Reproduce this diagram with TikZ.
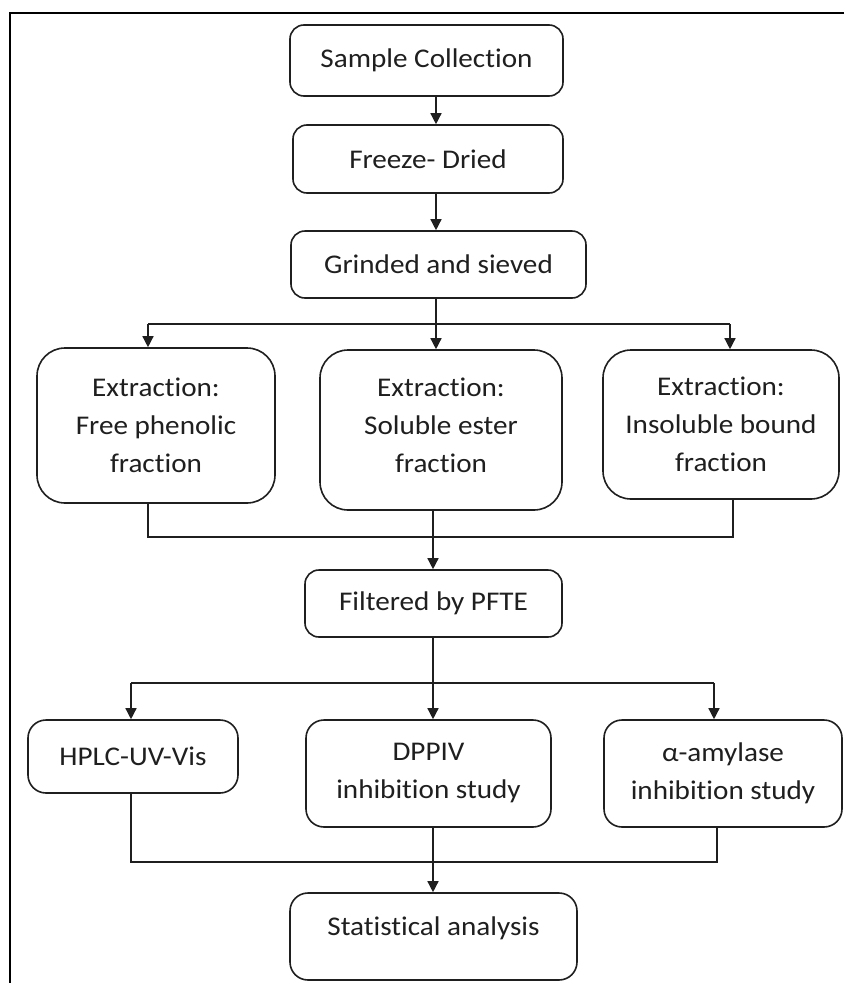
\documentclass[tikz,border=0pt]{standalone}
\usepackage{fontspec}
\setmainfont{Carlito}[FakeStretch=1.08, RawFeature=-liga]
\usetikzlibrary{arrows.meta}
\definecolor{ink}{rgb}{0.12,0.12,0.12}
\tikzset{
  box/.style={draw=ink, text=ink, line width=1.6pt, rounded corners=14pt, inner sep=0pt,
    align=center, font=\fontsize{27}{38}\selectfont},
  bigbox/.style={box, rounded corners=28pt},
  midbox/.style={box, rounded corners=18pt},
  link/.style={draw=ink, line width=1.4pt},
  arr/.style={link, -{Triangle[length=11pt,width=11pt]}}
}
\begin{document}
\begin{tikzpicture}[x=1pt,y=-1pt]
\useasboundingbox (0,0) rectangle (844,983);
\fill[white] (0,0) rectangle (844,983);
\draw[line width=2pt] (844,13) -- (10,13) -- (10,983);

\node[box, minimum width=273pt, minimum height=71pt] (sc) at (426.5,60.5) {Sample Collection};
\node[box, minimum width=270pt, minimum height=68pt] (fd) at (428,159) {Freeze- Dried};
\node[box, minimum width=295pt, minimum height=67pt] (gs) at (438.5,264.5) {Grinded and sieved};

\node[bigbox, minimum width=238pt, minimum height=155pt] (e1) at (156,425.5) {Extraction:\\Free phenolic\\fraction};
\node[bigbox, minimum width=242pt, minimum height=160pt, text depth=10pt] (e2) at (441,430) {Extraction:\\Soluble ester\\fraction};
\node[bigbox, minimum width=236pt, minimum height=149pt] (e3) at (721,424.5) {Extraction:\\Insoluble bound\\fraction};

\node[box, minimum width=257pt, minimum height=67pt] (pf) at (433.5,603.5) {Filtered by PFTE};

\node[midbox, minimum width=210pt, minimum height=73pt] (h1) at (133,756.5) {HPLC-UV-Vis};
\node[midbox, minimum width=245pt, minimum height=107pt] (h2) at (428.5,773.5) {DPPIV\\inhibition study};
\node[midbox, minimum width=238pt, minimum height=107pt] (h3) at (723,773.5) {α-amylase\\inhibition study};

\node[midbox, minimum width=287pt, minimum height=87pt, text height=19pt, text depth=22pt] (st) at (433.5,936.5) {Statistical analysis};

% spine
\coordinate (a1) at (436,0);
\draw[arr] (sc.south -| a1) -- (fd.north -| a1);
\draw[arr] (fd.south -| a1) -- (gs.north -| a1);

% first branch
\coordinate (b1) at (436,324);
\coordinate (bl) at (148,324);
\coordinate (br) at (730,324);
\draw[link] (gs.south -| b1) -- (b1);
\draw[link] (bl) -- (br);
\draw[arr] (bl) -- (e1.north -| bl);
\draw[arr] (b1) -- (e2.north -| b1);
\draw[arr] (br) -- (e3.north -| br);

% first merge
\coordinate (ml) at (148,537);
\coordinate (mr) at (733,537);
\coordinate (mc) at (433,537);
\draw[link] (e1.south -| ml) -- (ml) -- (mr) -- (e3.south -| mr);
\draw[arr] (e2.south -| mc) -- (pf.north -| mc);

% second branch
\coordinate (s2) at (433,683);
\coordinate (sl) at (131,683);
\coordinate (sr) at (714,683);
\draw[link] (pf.south -| s2) -- (s2);
\draw[link] (sl) -- (sr);
\draw[arr] (sl) -- (h1.north -| sl);
\draw[arr] (s2) -- (h2.north -| s2);
\draw[arr] (sr) -- (h3.north -| sr);

% second merge
\coordinate (ql) at (131,862);
\coordinate (qr) at (717,862);
\coordinate (qc) at (433,862);
\draw[link] (h1.south -| ql) -- (ql) -- (qr) -- (h3.south -| qr);
\draw[arr] (h2.south -| qc) -- (st.north -| qc);
\end{tikzpicture}
\end{document}
